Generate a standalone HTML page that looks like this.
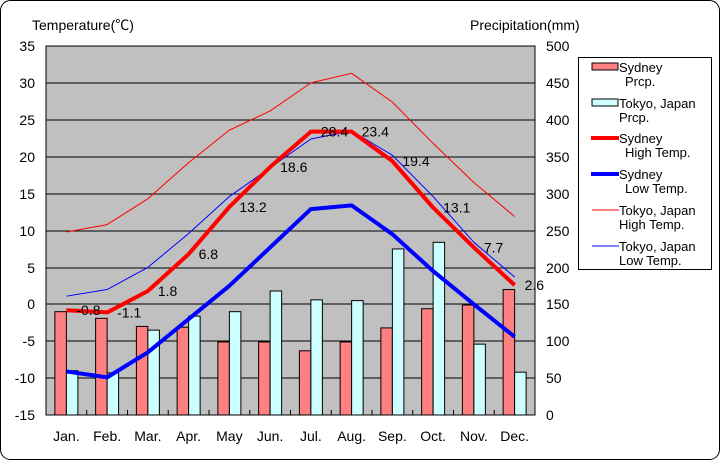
<!DOCTYPE html>
<html><head><meta charset="utf-8"><style>
html,body{margin:0;padding:0;background:#fff;}
svg text{font-family:"Liberation Sans","Noto Sans CJK JP",sans-serif;}
</style></head><body>
<svg width="720" height="460" xmlns="http://www.w3.org/2000/svg">
<rect x="0.5" y="0.5" width="719" height="459" rx="10" ry="10" fill="#fff" stroke="#000"/>
<rect x="46" y="46" width="489" height="369" fill="#c0c0c0" stroke="#000"/>
<g stroke="#000" stroke-width="1">
<line x1="46" x2="535" y1="83" y2="83"/><line x1="46" x2="535" y1="120" y2="120"/>
<line x1="46" x2="535" y1="157" y2="157"/><line x1="46" x2="535" y1="194" y2="194"/>
<line x1="46" x2="535" y1="231" y2="231"/><line x1="46" x2="535" y1="268" y2="268"/>
<line x1="46" x2="535" y1="304" y2="304"/><line x1="46" x2="535" y1="341" y2="341"/>
<line x1="46" x2="535" y1="378" y2="378"/>
</g>
<g id="bars" stroke="#000" stroke-width="1"></g>
<g id="lines" fill="none" stroke-linejoin="round"></g>
<g id="labels" font-size="14" fill="#000"></g>
<g font-size="14" fill="#000">
<text x="32" y="30">Temperature(℃)</text>
<text x="470" y="30">Precipitation(mm)</text>
<g text-anchor="end">
<text x="35" y="51">35</text><text x="35" y="88">30</text><text x="35" y="125">25</text><text x="35" y="162">20</text><text x="35" y="199">15</text><text x="35" y="236">10</text><text x="35" y="273">5</text><text x="35" y="309">0</text><text x="35" y="346">-5</text><text x="35" y="383">-10</text><text x="35" y="420">-15</text>
</g>
<g>
<text x="546" y="51">500</text><text x="546" y="88">450</text><text x="546" y="125">400</text><text x="546" y="162">350</text><text x="546" y="199">300</text><text x="546" y="236">250</text><text x="546" y="273">200</text><text x="546" y="309">150</text><text x="546" y="346">100</text><text x="546" y="383">50</text><text x="546" y="420">0</text>
</g>
<g text-anchor="middle" id="months"></g>
</g>
<rect x="578.5" y="57.5" width="133" height="212" fill="#fff" stroke="#000"/>
<g font-size="13" fill="#000">
<rect x="592" y="63" width="26" height="7" fill="#ff8080" stroke="#000"/>
<text x="619" y="72">Sydney</text><text x="625" y="86">Prcp.</text>
<rect x="592" y="99" width="26" height="7" fill="#ccffff" stroke="#000"/>
<text x="619" y="108">Tokyo, Japan</text><text x="619" y="122">Prcp.</text>
<line x1="591" x2="619" y1="138" y2="138" stroke="#f00" stroke-width="4"/>
<text x="619" y="143">Sydney</text><text x="625" y="157">High Temp.</text>
<line x1="591" x2="619" y1="174" y2="174" stroke="#00f" stroke-width="4"/>
<text x="619" y="179">Sydney</text><text x="625" y="193">Low Temp.</text>
<line x1="592" x2="619" y1="210" y2="210" stroke="#f00" stroke-width="1"/>
<text x="619" y="215">Tokyo, Japan</text><text x="619" y="229">High Temp.</text>
<line x1="592" x2="619" y1="246" y2="246" stroke="#00f" stroke-width="1"/>
<text x="619" y="251">Tokyo, Japan</text><text x="619" y="265">Low Temp.</text>
</g>
</svg>
<script>
var ns="http://www.w3.org/2000/svg";
function el(p,t,a,txt){var e=document.createElementNS(ns,t);for(var k in a)e.setAttribute(k,a[k]);if(txt)e.textContent=txt;p.appendChild(e);return e;}
var W=40.75,X0=46;
function cx(i){return X0+(i+0.5)*W;}
function ty(t){return 415-(t+15)*7.38;}
function py(m){return 415-m*0.738;}
var sp=[140,131,120,119,99,99,87,99,118,144,149,170];
var tp=[60,57,115,134,140,168,156,155,225,234,96,58];
var sh=[-0.8,-1.1,1.8,6.8,13.2,18.6,23.4,23.4,19.4,13.1,7.7,2.6];
var sl=[-9.1,-9.9,-6.5,-2,2.5,7.7,12.9,13.4,9.5,4.5,0,-4.4];
var th=[9.8,10.8,14.3,19.2,23.6,26.2,30,31.3,27.4,21.8,16.5,11.9];
var tl=[1.1,2,5,9.6,14.6,18.5,22.4,23.5,20.2,14.6,8.4,3.7];
var lab=["-0.8","-1.1","1.8","6.8","13.2","18.6","28.4","23.4","19.4","13.1","7.7","2.6"];
var mon=["Jan.","Feb.","Mar.","Apr.","May","Jun.","Jul.","Aug.","Sep.","Oct.","Nov.","Dec."];
var b=document.getElementById("bars"),l=document.getElementById("lines"),lb=document.getElementById("labels"),mo=document.getElementById("months");
for(var i=0;i<12;i++){
 var c=cx(i);
 el(b,"rect",{x:c-11.5,y:py(sp[i]),width:11.5,height:415-py(sp[i]),fill:"#ff8080"});
 el(b,"rect",{x:c,y:py(tp[i]),width:11.5,height:415-py(tp[i]),fill:"#ccffff"});
 el(mo,"text",{x:c,y:441},mon[i]);
 el(b,"line",{x1:X0+(i+1)*W,x2:X0+(i+1)*W,y1:410,y2:415});
 el(lb,"text",{x:c+10,y:ty(sh[i])+5},lab[i]);
}
function pl(arr,col,w){var p=arr.map(function(v,i){return cx(i)+","+ty(v);}).join(" ");el(l,"polyline",{points:p,stroke:col,"stroke-width":w});}
pl(th,"#f00",1);pl(tl,"#00f",1);pl(sh,"#f00",4);pl(sl,"#00f",4);
</script>
</body></html>
